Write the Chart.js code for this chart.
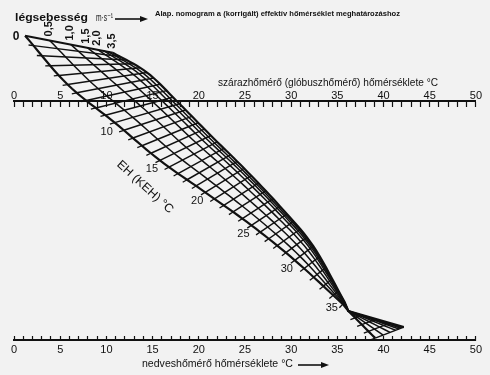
<!DOCTYPE html>
<html>
<head>
<meta charset="utf-8">
<script src="https://cdn.jsdelivr.net/npm/chart.js@4.4.1/dist/chart.umd.min.js"></script>
<style>
  html, body { margin: 0; padding: 0; background: #f2f2f2; }
  #nomo { display: block; }
</style>
</head>
<body>
<canvas id="nomo" width="490" height="375"></canvas>
<script>
const etKnots = [0, 5, 10, 15, 20, 25, 30, 35, 36, 40];
// edge v = 0 m/s (left, carries the EH scale): dry-bulb °C and nomogram height (0 = top scale, 100 = bottom scale)
const leftDry = [1.2, 5.8, 10.9, 15.8, 20.7, 25.7, 30.4, 35.6, 36.2, 39.1];
const leftHeight = [-27.1, -6.7, 9.2, 25.0, 38.3, 52.1, 66.7, 85.0, 87.9, 99.2];
// edge v = 3.5 m/s (right)
const rightDry = [10.7, 14.4, 17.9, 21.3, 24.9, 28.8, 32.4, 35.8, 36.2, 42.2];
const rightHeight = [-20.0, -11.7, 1.3, 14.6, 28.3, 44.2, 60.8, 84.2, 87.9, 94.6];
// air velocity lines and where each one sits between the two edges
const velocities = [0, 0.5, 1.0, 1.5, 2.0, 2.5, 3.0, 3.5];
const velocityShare = [0, 0.28, 0.52, 0.71, 0.83, 0.9, 0.95, 1];
const velocityLabels = ["0", "0,5", "1,0", "1,5", "2,0", "", "", "3,5"];
const etLabels = [10, 15, 20, 25, 30, 35];
const tickLabels = [0, 5, 10, 15, 20, 25, 30, 35, 40, 45, 50];
const etFirst = 0;
const etLast = 40;
const etMeet = 36; // the lines all cross here

const INK = "#111111";
const FONT = "'Liberation Sans', 'DejaVu Sans', sans-serif";

// smooth curve through the knots above the crossing, straight below it
function edgeValue(vals, et) {
  let i = 0;
  while (i < etKnots.length - 2 && et > etKnots[i + 1]) i++;
  const t = (et - etKnots[i]) / (etKnots[i + 1] - etKnots[i]);
  const p1 = vals[i], p2 = vals[i + 1];
  const lastSmooth = etKnots.indexOf(35);
  if (i >= lastSmooth) return p1 + t * (p2 - p1);
  const p0 = i > 0 ? vals[i - 1] : 2 * p1 - p2;
  const p3 = i + 2 <= lastSmooth ? vals[i + 2] : 2 * p2 - p1;
  return 0.5 * (2 * p1 + (p2 - p0) * t + (2 * p0 - 5 * p1 + 4 * p2 - p3) * t * t +
    (3 * p1 - p0 - 3 * p2 + p3) * t * t * t);
}

function meshPoint(et, share) {
  const lx = edgeValue(leftDry, et), ly = edgeValue(leftHeight, et);
  const rx = edgeValue(rightDry, et), ry = edgeValue(rightHeight, et);
  return { x: lx + share * (rx - lx), y: ly + share * (ry - ly) };
}

const datasets = [];
// EH lines (short cross lines)
for (let et = etFirst; et <= etLast; et++) {
  datasets.push({
    data: [meshPoint(et, 0), meshPoint(et, 1)],
    borderWidth: et === etFirst ? 2 : 1.5
  });
}
// air velocity lines
velocities.forEach((v, i) => {
  const pts = [];
  for (let et = etFirst; et <= etLast; et += 0.5) pts.push(meshPoint(et, velocityShare[i]));
  datasets.push({ data: pts, borderWidth: i === 0 || i === velocities.length - 1 ? 2.2 : 1.5 });
});
datasets.forEach(d => {
  d.showLine = true;
  d.borderColor = INK;
  d.pointRadius = 0;
  d.tension = 0;
  d.xAxisID = "dry";
  d.yAxisID = "h";
  d.clip = false;
});

function tempAxis(height, tickLen, pad) {
  return {
    type: "linear",
    axis: "x",
    position: { h: height },
    min: 0,
    max: 50,
    ticks: {
      stepSize: 1,
      autoSkip: false,
      maxRotation: 0,
      padding: pad,
      color: INK,
      font: { size: 11, family: FONT },
      callback: v => (tickLabels.includes(v) ? String(v) : "")
    },
    grid: { drawOnChartArea: false, tickLength: tickLen, tickWidth: 1.2, tickColor: INK },
    border: { color: INK, width: 2 }
  };
}

function fitText(ctx, text, x, y, width) {
  const w = ctx.measureText(text).width;
  ctx.save();
  ctx.translate(x, y);
  ctx.scale(width / w, 1);
  ctx.fillText(text, 0, 0);
  ctx.restore();
}

function arrow(ctx, x1, x2, y) {
  ctx.beginPath();
  ctx.moveTo(x1, y);
  ctx.lineTo(x2 - 6, y);
  ctx.lineWidth = 1.6;
  ctx.stroke();
  ctx.beginPath();
  ctx.moveTo(x2, y);
  ctx.lineTo(x2 - 8, y - 3);
  ctx.lineTo(x2 - 8, y + 3);
  ctx.closePath();
  ctx.fill();
}

const notes = {
  id: "notes",
  afterDraw(chart) {
    const ctx = chart.ctx;
    const xs = chart.scales.dry;
    const ys = chart.scales.h;
    const px = p => ({ x: xs.getPixelForValue(p.x), y: ys.getPixelForValue(p.y) });
    ctx.save();
    ctx.fillStyle = INK;
    ctx.strokeStyle = INK;
    ctx.textBaseline = "middle";
    ctx.textAlign = "left";

    // EH ticks on the v = 0 edge
    ctx.lineWidth = 1.3;
    for (let et = etFirst + 1; et <= etLast; et++) {
      if (et === etMeet) continue;
      const l = px(meshPoint(et, 0));
      const r = px(meshPoint(et, 1));
      const dx = l.x - r.x, dy = l.y - r.y;
      const len = Math.hypot(dx, dy) || 1;
      ctx.beginPath();
      ctx.moveTo(l.x, l.y);
      ctx.lineTo(l.x + 5 * dx / len, l.y + 5 * dy / len);
      ctx.stroke();
    }

    // EH scale numbers
    ctx.font = "11px " + FONT;
    ctx.textAlign = "center";
    etLabels.forEach(et => {
      const p = px(meshPoint(et, 0));
      const off = et === 35 ? [-11, 4] : [-8, 9];
      ctx.fillText(String(et), p.x + off[0], p.y + off[1]);
    });

    // velocity numbers along the top EH line
    velocities.forEach((v, i) => {
      const p = px(meshPoint(etFirst, velocityShare[i]));
      if (i === 0) {
        ctx.font = "bold 12px " + FONT;
        ctx.textAlign = "center";
        ctx.fillText(velocityLabels[i], p.x - 9, p.y + 1);
        return;
      }
      if (!velocityLabels[i]) return;
      ctx.save();
      ctx.translate(p.x - 1, p.y - 4);
      ctx.rotate(-Math.PI / 2);
      ctx.font = "bold 11px " + FONT;
      ctx.textAlign = "left";
      ctx.fillText(velocityLabels[i], 0, 0);
      ctx.restore();
    });

    // EH (KEH) °C caption
    ctx.save();
    ctx.translate(145, 187);
    ctx.rotate(0.74);
    ctx.font = "12px " + FONT;
    ctx.textAlign = "left";
    fitText(ctx, "EH (KEH) °C", -36, 0, 72);
    ctx.restore();

    ctx.textAlign = "left";
    ctx.font = "bold 11px " + FONT;
    fitText(ctx, "légsebesség", 15, 18, 73);
    ctx.font = "11px " + FONT;
    fitText(ctx, "m·s⁻¹", 96, 18, 17);
    arrow(ctx, 115, 148, 19);

    ctx.font = "bold 8px " + FONT;
    fitText(ctx, "Alap. nomogram a (korrigált) effektív hőmérséklet meghatározáshoz", 155, 14, 245);

    ctx.font = "11px " + FONT;
    fitText(ctx, "szárazhőmérő (glóbuszhőmérő) hőmérséklete °C", 218, 83, 220);
    fitText(ctx, "nedveshőmérő hőmérséklete °C", 142, 364, 151);
    arrow(ctx, 298, 329, 365);
    ctx.restore();
  }
};

new Chart(document.getElementById("nomo"), {
  type: "scatter",
  data: { datasets },
  options: {
    responsive: false,
    animation: false,
    devicePixelRatio: 1,
    layout: { padding: { left: 14, right: 12, top: 0, bottom: 0 } },
    plugins: { legend: { display: false }, tooltip: { enabled: false } },
    scales: {
      dry: tempAxis(0, 5, -16),
      wet: tempAxis(100, -5, 8),
      h: { type: "linear", axis: "y", reverse: true, min: -42, max: 114.6, display: false }
    }
  },
  plugins: [notes]
});
</script>
</body>
</html>
